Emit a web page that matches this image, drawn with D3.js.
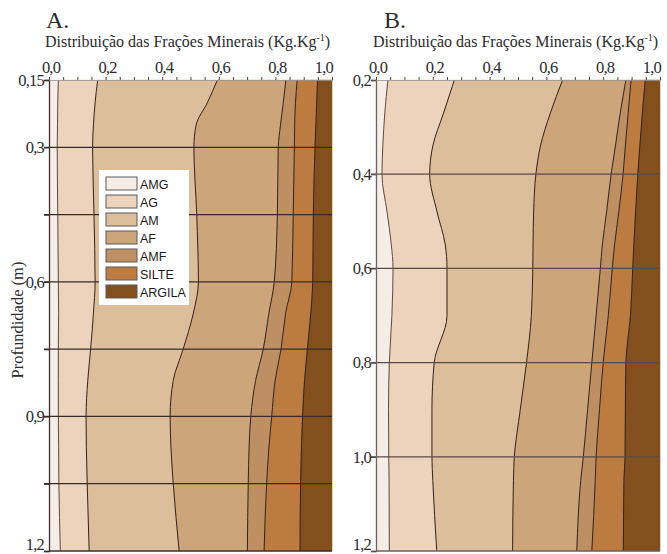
<!DOCTYPE html>
<html lang="pt">
<head>
  <meta charset="UTF-8">
  <title>Distribuição das Frações Minerais</title>
  <script src="https://d3js.org/d3.v7.min.js"></script>
  <style>
    body { margin: 0; background: white; }
  </style>
</head>
<body>
<svg width="667" height="554"></svg>
<script>
  // classes, from the left of the profile to the right
  const classes = ["AMG", "AG", "AM", "AF", "AMF", "SILTE", "ARGILA"];
  const colors = ["#f6ede6", "#ecd3bb", "#dcbe9c", "#cca57a", "#be8f62", "#bb7b41", "#83501d"];

  // panel A: depth (m) and cumulative fraction at each class boundary
  const depthA = [0.15, 0.2, 0.25, 0.3, 0.45, 0.6, 0.67, 0.75, 0.82, 0.9, 0.97, 1.05, 1.2];
  const boundsA = [
    [0.033, 0.031, 0.030, 0.029, 0.031, 0.033, 0.034, 0.033, 0.033, 0.033, 0.034, 0.035, 0.040],
    [0.172, 0.163, 0.157, 0.154, 0.159, 0.163, 0.157, 0.147, 0.137, 0.131, 0.132, 0.135, 0.142],
    [0.595, 0.560, 0.520, 0.512, 0.522, 0.528, 0.510, 0.474, 0.439, 0.428, 0.431, 0.439, 0.460],
    [0.837, 0.828, 0.818, 0.810, 0.807, 0.796, 0.777, 0.757, 0.730, 0.713, 0.707, 0.704, 0.701],
    [0.877, 0.871, 0.868, 0.867, 0.863, 0.858, 0.836, 0.820, 0.799, 0.787, 0.777, 0.769, 0.760],
    [0.949, 0.946, 0.943, 0.940, 0.934, 0.932, 0.925, 0.913, 0.903, 0.896, 0.892, 0.889, 0.887]
  ];

  // panel B
  const depthB = [0.2, 0.27, 0.34, 0.4, 0.48, 0.55, 0.6, 0.7, 0.8, 0.9, 1.0, 1.05, 1.2];
  const boundsB = [
    [0.042, 0.031, 0.024, 0.021, 0.039, 0.054, 0.060, 0.056, 0.047, 0.044, 0.045, 0.046, 0.047],
    [0.276, 0.238, 0.200, 0.189, 0.215, 0.244, 0.250, 0.250, 0.205, 0.197, 0.197, 0.200, 0.214],
    [0.657, 0.614, 0.579, 0.563, 0.555, 0.553, 0.552, 0.547, 0.530, 0.508, 0.487, 0.484, 0.481],
    [0.880, 0.860, 0.843, 0.828, 0.812, 0.797, 0.790, 0.775, 0.760, 0.745, 0.730, 0.721, 0.707],
    [0.898, 0.888, 0.878, 0.870, 0.855, 0.840, 0.832, 0.818, 0.800, 0.787, 0.775, 0.772, 0.760],
    [0.948, 0.938, 0.929, 0.922, 0.914, 0.908, 0.904, 0.896, 0.880, 0.878, 0.877, 0.873, 0.871]
  ];

  const xTicks = [0, 0.2, 0.4, 0.6, 0.8, 1.0];
  const yTicksA = [0.15, 0.3, 0.45, 0.6, 0.75, 0.9, 1.05, 1.2];
  const yLabelsA = ["0,15", "0,3", "", "0,6", "", "0,9", "", "1,2"];
  const yTicksB = [0.2, 0.4, 0.6, 0.8, 1.0, 1.2];
  const yLabelsB = ["0,2", "0,4", "0,6", "0,8", "1,0", "1,2"];

  const SERIF = "Liberation Serif";
  const SANS = "Liberation Sans";

  const svg = d3.select("svg");
  const fmt = d => d3.format(".1f")(d).replace(".", ",");

  function drawPanel(opt) {
    const x = d3.scaleLinear().domain([0, 1]).range(opt.xRange);
    const y = d3.scaleLinear().domain(opt.yDomain).range([80, 551]);
    const g = svg.append("g");

    // rows: one per depth with all boundaries, padded with 0 and 1
    const rows = opt.depth.map((d, i) => ({
      depth: d,
      b: [0, ...opt.bounds.map(s => s[i]), 1]
    }));

    const area = k => d3.area()
      .y(d => y(d.depth))
      .x0(d => x(d.b[k]))
      .x1(d => x(d.b[k + 1]))
      .curve(d3.curveMonotoneY);

    classes.forEach((c, k) => {
      g.append("path").datum(rows)
        .attr("fill", colors[k])
        .attr("stroke", colors[k])
        .attr("stroke-width", 0.5)
        .attr("d", area(k));
    });

    opt.bounds.forEach((s, k) => {
      g.append("path").datum(rows)
        .attr("fill", "none")
        .attr("stroke", k === 0 ? "#5e4c44" : "#33231a")
        .attr("stroke-width", 1)
        .attr("d", d3.line()
          .y(d => y(d.depth))
          .x(d => x(d.b[k + 1]))
          .curve(d3.curveMonotoneY));
    });

    // horizontal grid lines
    g.append("g").selectAll("line")
      .data(opt.yTicks.filter(t => t !== opt.yDomain[0] && t !== opt.yDomain[1]))
      .join("line")
      .attr("x1", x(0) - 5).attr("x2", x(1))
      .attr("y1", d => y(d)).attr("y2", d => y(d))
      .attr("stroke", opt.gridColor)
      .attr("stroke-width", 1.3);

    // left axis
    const yAxis = g.append("g")
      .attr("transform", `translate(${x(0)},0)`)
      .call(d3.axisLeft(y).tickValues(opt.yTicks).tickSize(5)
        .tickFormat((d, i) => opt.yLabels[i]));
    yAxis.attr("font-family", SERIF).attr("font-size", 16.5);
    yAxis.select(".domain").attr("stroke", opt.axisColor).attr("stroke-width", 1.3);
    yAxis.selectAll(".tick line").attr("stroke", opt.gridColor).attr("stroke-width", 1.3);
    yAxis.selectAll(".tick text")
      .attr("letter-spacing", -0.8).attr("x", -5)
      .attr("dy", d => d === opt.yDomain[1] ? "-0.1em" : "0.32em")
      .attr("fill", "#2b2b2b");

    // bottom border
    g.append("line")
      .attr("x1", x(0)).attr("x2", x(1))
      .attr("y1", y(opt.yDomain[1])).attr("y2", y(opt.yDomain[1]))
      .attr("stroke", opt.axisColor).attr("stroke-width", 1.3);

    // top axis
    const xAxis = g.append("g")
      .attr("transform", `translate(0,${y(opt.yDomain[0])})`)
      .call(d3.axisTop(x).ticks(20).tickSize(3).tickFormat(""));
    xAxis.select(".domain").attr("stroke", "#9a9290").attr("stroke-width", 0.8);
    xAxis.selectAll(".tick line").attr("stroke", "#4a4240");

    g.append("g").selectAll("text")
      .data(xTicks)
      .join("text")
      .attr("x", d => d === 1 ? x(d) + 1 : x(d) + 2)
      .attr("y", 73)
      .attr("text-anchor", d => d === 1 ? "end" : "middle")
      .attr("font-family", SERIF)
      .attr("font-size", 16.5)
      .attr("letter-spacing", -0.8)
      .attr("fill", "#2b2b2b")
      .text(fmt);

    // panel letter and title
    g.append("text")
      .attr("x", opt.letterX).attr("y", 28)
      .attr("font-family", SERIF)
      .attr("font-size", 24)
      .attr("fill", "#2b2b2b")
      .text(opt.letter);

    const t = g.append("text")
      .attr("x", opt.titleX).attr("y", 47)
      .attr("font-family", SERIF)
      .attr("font-size", 16)
      .attr("fill", "#2b2b2b");
    t.append("tspan").text("Distribuição das Frações Minerais (Kg.Kg");
    t.append("tspan").attr("font-size", 10).attr("dy", -6).text("-1");
    t.append("tspan").attr("dy", 6).text(")");

    return { x, y, g };
  }

  drawPanel({
    xRange: [49, 332], yDomain: [0.15, 1.2], depth: depthA, bounds: boundsA,
    yTicks: yTicksA, yLabels: yLabelsA, gridColor: "#3b2a24", axisColor: "#3e3330",
    letter: "A.", letterX: 46, titleX: 45
  });

  drawPanel({
    xRange: [376, 660], yDomain: [0.2, 1.2], depth: depthB, bounds: boundsB,
    yTicks: yTicksB, yLabels: yLabelsB, gridColor: "#5a4a45", axisColor: "#6d6360",
    letter: "B.", letterX: 384, titleX: 373
  });

  // depth axis title
  svg.append("text")
    .attr("transform", "translate(23,320) rotate(-90)")
    .attr("text-anchor", "middle")
    .attr("font-family", SERIF)
    .attr("font-size", 16.5)
    .attr("fill", "#2b2b2b")
    .text("Profundidade (m)");

  // legend inside panel A
  const legend = svg.append("g")
    .attr("transform", "translate(99,170)");
  legend.append("rect")
    .attr("width", 90).attr("height", 135)
    .attr("fill", "white");
  const item = legend.selectAll("g.item")
    .data(classes)
    .join("g")
    .attr("class", "item")
    .attr("transform", (d, i) => `translate(7,${7 + i * 18})`);
  item.append("rect")
    .attr("width", 31).attr("height", 13)
    .attr("fill", (d, i) => colors[i])
    .attr("stroke", "#5a5a5a").attr("stroke-width", 1);
  item.append("text")
    .attr("x", 34).attr("y", 11.5)
    .attr("font-family", SANS)
    .attr("font-size", 12.5)
    .attr("fill", "#1a1a1a")
    .text(d => d);
</script>
</body>
</html>
